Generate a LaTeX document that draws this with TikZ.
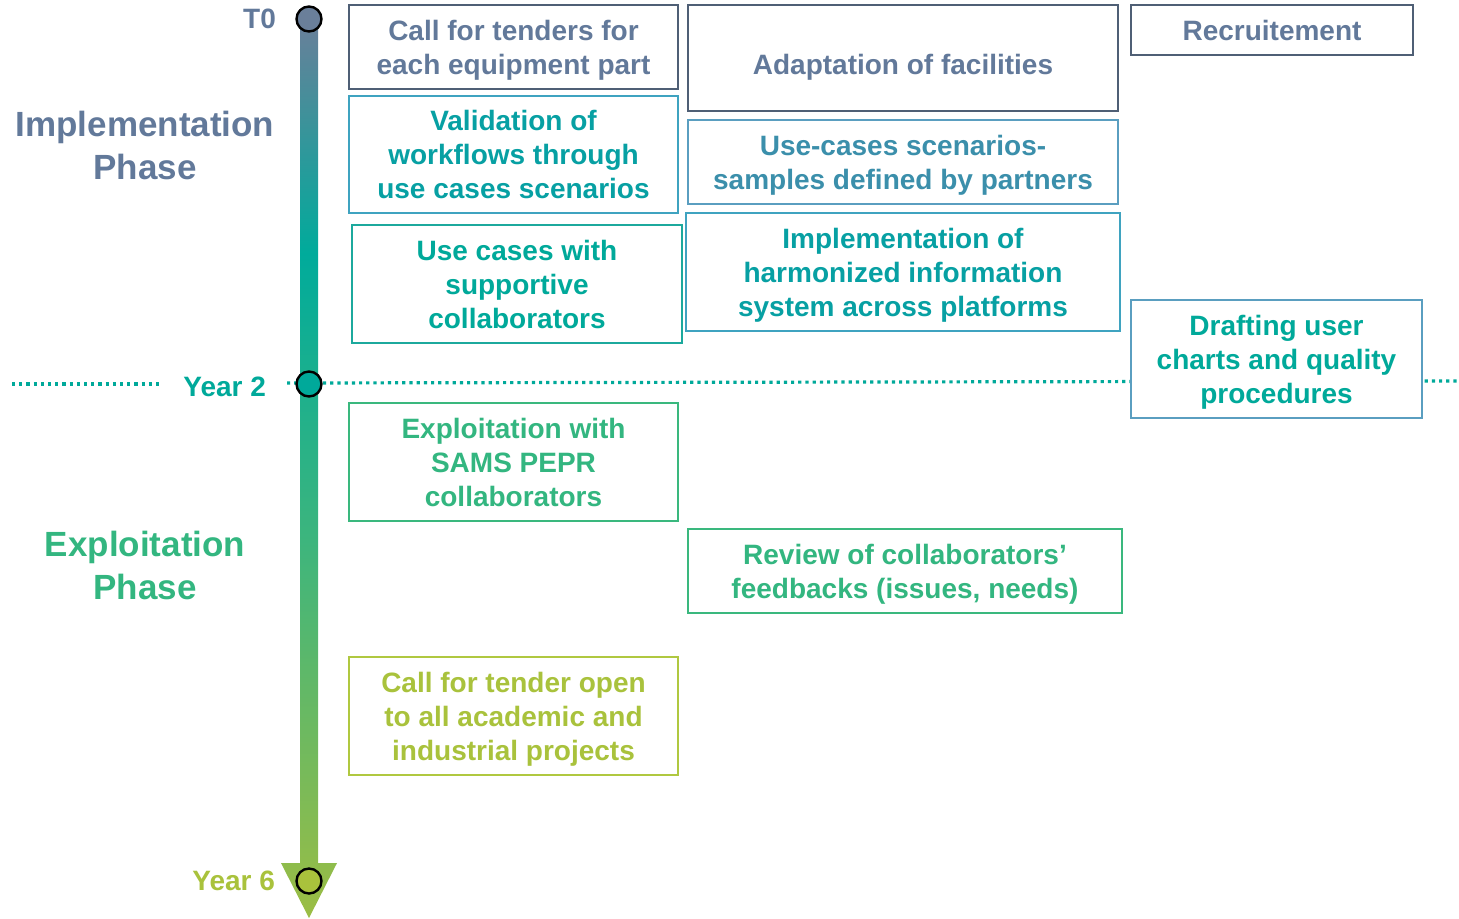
\documentclass[tikz,border=0pt]{standalone}
\usepackage{fontspec}
\setmainfont{Liberation Sans}
\usepackage{xcolor}
\usetikzlibrary{positioning, calc}

\definecolor{slateText}{HTML}{62799A}
\definecolor{slateLine}{HTML}{4F5F75}
\definecolor{blueText}{HTML}{3B8FAB}
\definecolor{blueLine}{HTML}{5A9EC0}
\definecolor{tealText}{HTML}{07A0A3}
\definecolor{tealLine}{HTML}{3FA3C0}
\definecolor{aquaText}{HTML}{00A99A}
\definecolor{aquaLine}{HTML}{1CA99D}
\definecolor{greenText}{HTML}{33B680}
\definecolor{greenLine}{HTML}{3AB87E}
\definecolor{limeText}{HTML}{A9C23C}
\definecolor{limeLine}{HTML}{B0C840}
\definecolor{arrowSlate}{HTML}{6A7F9A}
\definecolor{arrowTeal}{HTML}{00AB9B}
\definecolor{arrowGreen}{HTML}{3DB57D}
\definecolor{arrowLime}{HTML}{9CBD44}

\pgfdeclareverticalshading{timeline}{100bp}{color(0bp)=(arrowLime); color(25bp)=(arrowLime); color(46bp)=(arrowGreen); color(62bp)=(arrowTeal); color(75bp)=(arrowSlate); color(100bp)=(arrowSlate)}

\begin{document}
\begin{tikzpicture}[
    x=0.5pt, y=-0.5pt,
    font=\bfseries\fontsize{14}{17}\selectfont,
    box/.style={draw, line width=1pt, fill=white, inner sep=0pt, align=center, text depth=0pt},
    slatebox/.style={box, draw=slateLine, text=slateText},
    bluebox/.style={box, draw=blueLine, text=blueText},
    tealbox/.style={box, draw=tealLine, text=tealText},
    aquabox/.style={box, draw=aquaLine, text=aquaText},
    greenbox/.style={box, draw=greenLine, text=greenText},
    limebox/.style={box, draw=limeLine, text=limeText},
    milestone/.style={draw=black, line width=1.2pt, circle, inner sep=0pt, minimum size=12.5pt},
    phase/.style={align=center, font=\bfseries\fontsize{17.5}{21.5}\selectfont},
    yearline/.style={draw=aquaText, line width=1.6pt, dash pattern=on 1.6pt off 2pt}
  ]
  \useasboundingbox (0,0) rectangle (1459,918);

  % Year 2 separation
  \coordinate (sepA) at (12,384);
  \coordinate (sepB) at (163,384);
  \coordinate (sepC) at (287,383);
  \coordinate (sepD) at (1459,381);
  \draw[yearline] (sepA) -- (sepB);
  \draw[yearline] (sepC) -- (sepD);

  % timeline arrow
  \shade[shading=timeline] (300,20) -- (318,20) -- (318,863) -- (337,863)
    -- (309,918) -- (281,863) -- (300,863) -- cycle;

  \node (t0) [milestone, fill=arrowSlate] at (309,19) {};
  \node (y2) [milestone, fill=aquaText] at (309,384) {};
  \node (y6) [milestone, fill=limeText] at (309,881) {};
  \node (t0lbl) [left=9.5pt of t0, inner sep=0pt, text=slateText] {T0};
  \node (y2lbl) [left=14.5pt of y2, inner sep=0pt, text=aquaText, yshift=-1.5pt] {Year 2};
  \node (y6lbl) [left=10pt of y6, inner sep=0pt, text=limeText] {Year 6};

  \node (impl) [phase, text=slateText] at (145,145) {Implementation\\Phase};
  \node (expl) [phase, text=greenText] at (145,565) {Exploitation\\Phase};

  \node (tenders) [slatebox, minimum width=164.5pt, minimum height=42pt] at (513.5,47) {Call for tenders for\\each equipment part};
  \node (validation) [tealbox, minimum width=164.5pt, minimum height=58.5pt] at (513.5,154.5) {Validation of\\workflows through\\use cases scenarios};
  \node (supportive) [aquabox, minimum width=165pt, minimum height=59pt] at (517,284) {Use cases with\\supportive\\collaborators};
  \node (facilities) [slatebox, minimum width=215pt, minimum height=53pt, text height=16.5pt] at (903,58) {Adaptation of facilities};
  \node (samples) [bluebox, minimum width=215pt, minimum height=42pt] at (903,162) {Use-cases scenarios-\\samples defined by partners};
  \node (infosys) [tealbox, minimum width=217pt, minimum height=59pt] at (903,272) {Implementation of\\harmonized information\\system across platforms};
  \node (recruit) [slatebox, minimum width=141pt, minimum height=25pt] at (1272,30) {Recruitement};
  \node (charts) [box, draw=blueLine, text=aquaText, minimum width=145.5pt, minimum height=59pt] at (1276.5,359) {Drafting user\\charts and quality\\procedures};
  \node (sams) [greenbox, minimum width=164.5pt, minimum height=59pt] at (513.5,462) {Exploitation with\\SAMS PEPR\\collaborators};
  \node (review) [greenbox, minimum width=217pt, minimum height=42pt] at (905,571) {Review of collaborators’\\feedbacks (issues, needs)};
  \node (openCall) [limebox, minimum width=164.5pt, minimum height=59pt] at (513.5,716) {Call for tender open\\to all academic and\\industrial projects};
\end{tikzpicture}
\end{document}
